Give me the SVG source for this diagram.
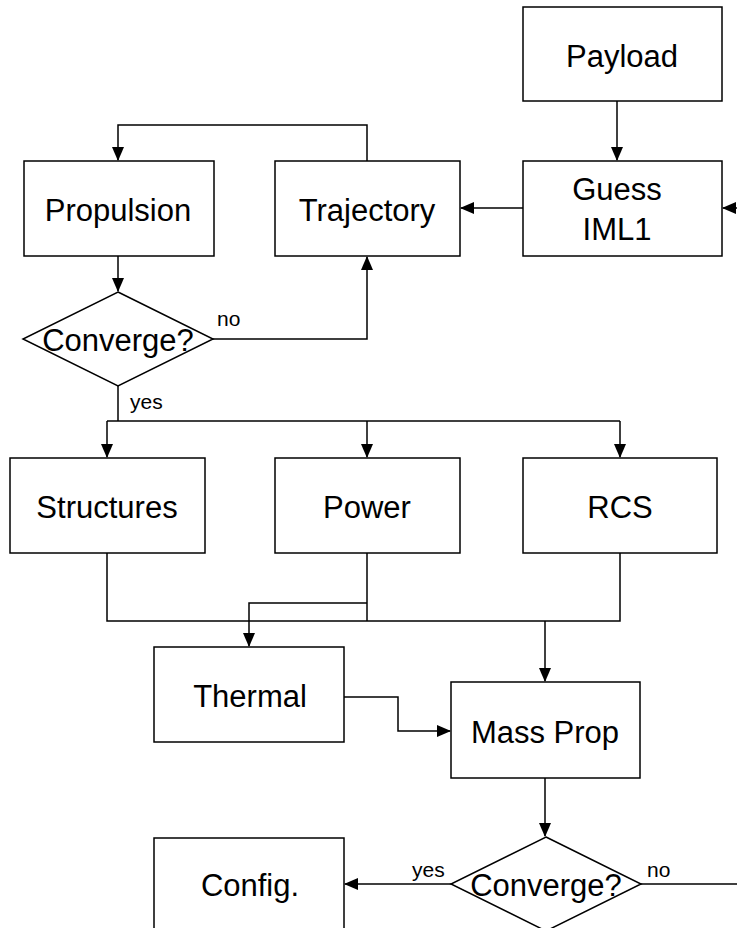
<svg xmlns="http://www.w3.org/2000/svg" width="737" height="928" viewBox="0 0 737 928">
<style>
.box{fill:#fff;stroke:#000;stroke-width:1.5}
.lbl{font-family:"Liberation Sans",Arial,sans-serif;font-size:31px;text-anchor:middle;fill:#000}
.sm{font-family:"Liberation Sans",Arial,sans-serif;font-size:21px;fill:#000}
.ln{fill:none;stroke:#000;stroke-width:1.5}
</style>
<defs>
<marker id="ah" markerWidth="14" markerHeight="14" refX="13" refY="6" orient="auto" markerUnits="userSpaceOnUse">
<path d="M0,0 L14,6 L0,12 Z" fill="#000"/>
</marker>
</defs>
<rect width="737" height="928" fill="#fff"/>
<g id="connectors">
<path class="ln" d="M617,101 V160" marker-end="url(#ah)"/>
<path class="ln" d="M523,208 H461" marker-end="url(#ah)"/>
<path class="ln" d="M737,208 H723" marker-end="url(#ah)"/>
<path class="ln" d="M367,161 V125 H118 V160" marker-end="url(#ah)"/>
<path class="ln" d="M118,256 V291" marker-end="url(#ah)"/>
<path class="ln" d="M213,339 H367 V257" marker-end="url(#ah)"/>
<path class="ln" d="M118,386 V421"/>
<path class="ln" d="M107,421 H620"/>
<path class="ln" d="M107,421 V457" marker-end="url(#ah)"/>
<path class="ln" d="M367,421 V457" marker-end="url(#ah)"/>
<path class="ln" d="M620,421 V457" marker-end="url(#ah)"/>
<path class="ln" d="M107,553 V621 H620 V553"/>
<path class="ln" d="M367,553 V621"/>
<path class="ln" d="M367,603 H249 V646" marker-end="url(#ah)"/>
<path class="ln" d="M545,621 V681" marker-end="url(#ah)"/>
<path class="ln" d="M344,697 H398 V731 H450" marker-end="url(#ah)"/>
<path class="ln" d="M545,778 V836" marker-end="url(#ah)"/>
<path class="ln" d="M451,884 H345" marker-end="url(#ah)"/>
<path class="ln" d="M641,884 H737"/>
</g>
<g id="payload"><rect class="box" x="523" y="7" width="199" height="94"/><text class="lbl" x="622" y="67">Payload</text></g>
<g id="guess"><rect class="box" x="523" y="161" width="199" height="95"/><text class="lbl" x="617" y="200">Guess</text><text class="lbl" x="617" y="240">IML1</text></g>
<g id="propulsion"><rect class="box" x="24" y="161" width="190" height="95"/><text class="lbl" x="118" y="221">Propulsion</text></g>
<g id="trajectory"><rect class="box" x="275" y="161" width="185" height="95"/><text class="lbl" x="367" y="221">Trajectory</text></g>
<g id="converge1"><polygon class="box" points="118,292 213,339 118,386 23,339"/><text class="lbl" x="118" y="351">Converge?</text><text class="sm" x="217" y="326">no</text><text class="sm" x="130" y="409">yes</text></g>
<g id="structures"><rect class="box" x="10" y="458" width="195" height="95"/><text class="lbl" x="107" y="518">Structures</text></g>
<g id="power"><rect class="box" x="275" y="458" width="185" height="95"/><text class="lbl" x="367" y="518">Power</text></g>
<g id="rcs"><rect class="box" x="523" y="458" width="194" height="95"/><text class="lbl" x="620" y="518">RCS</text></g>
<g id="thermal"><rect class="box" x="154" y="647" width="190" height="95"/><text class="lbl" x="250" y="707">Thermal</text></g>
<g id="massprop"><rect class="box" x="451" y="682" width="189" height="96"/><text class="lbl" x="545" y="743">Mass Prop</text></g>
<g id="converge2"><polygon class="box" points="546,837 641,884 546,931 451,884"/><text class="lbl" x="546" y="896">Converge?</text><text class="sm" x="412" y="877">yes</text><text class="sm" x="647" y="877">no</text></g>
<g id="config"><rect class="box" x="154" y="838" width="190" height="100"/><text class="lbl" x="250" y="896">Config.</text></g>
</svg>
